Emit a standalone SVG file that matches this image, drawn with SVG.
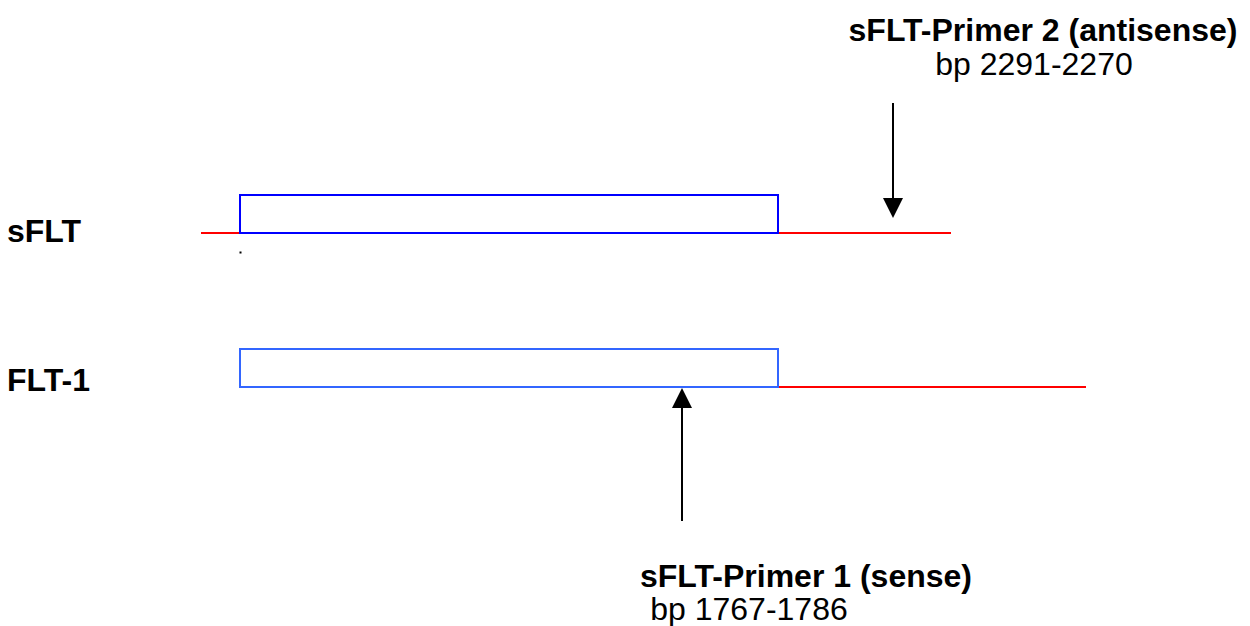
<svg xmlns="http://www.w3.org/2000/svg" width="1250" height="626" viewBox="0 0 1250 626">
<defs>
<style>
.b{font-family:"Liberation Sans",Arial,sans-serif;font-weight:bold;font-size:32px;fill:#000}
.n{font-family:"Liberation Sans",Arial,sans-serif;font-size:32px;fill:#000}
.red{stroke:#ff0000;stroke-width:2;fill:none}
.arr{stroke:#000;stroke-width:2;fill:none}
</style>
</defs>
<rect width="1250" height="626" fill="#fff"/>
<g id="sflt">
<text class="b" x="7" y="242">sFLT</text>
<line class="red" x1="201" y1="233" x2="240" y2="233"/>
<line class="red" x1="778" y1="233" x2="951" y2="233"/>
<rect x="240" y="195" width="538" height="38" fill="#fff" stroke="#0000ff" stroke-width="2"/>
<rect x="239.5" y="251.5" width="2" height="2" fill="#000"/>
</g>
<g id="flt1">
<text class="b" x="7" y="391">FLT-1</text>
<line class="red" x1="778" y1="387" x2="1086" y2="387"/>
<rect x="240" y="349" width="538" height="38" fill="#fff" stroke="#3366ff" stroke-width="2"/>
</g>
<g id="primer2">
<text class="b" x="1043" y="41" text-anchor="middle">sFLT-Primer 2 (antisense)</text>
<text class="n" x="1034" y="75" text-anchor="middle">bp 2291-2270</text>
</g>
<g id="primer1">
<text class="b" x="806" y="587" text-anchor="middle">sFLT-Primer 1 (sense)</text>
<text class="n" x="749" y="620" text-anchor="middle">bp 1767-1786</text>
</g>
<g id="connectors">
<line class="arr" x1="893" y1="103" x2="893" y2="199"/>
<path d="M883,198 L903,198 L893,218 Z" fill="#000"/>
<line class="arr" x1="682" y1="521" x2="682" y2="407"/>
<path d="M672,408 L692,408 L682,388 Z" fill="#000"/>
</g>
</svg>
